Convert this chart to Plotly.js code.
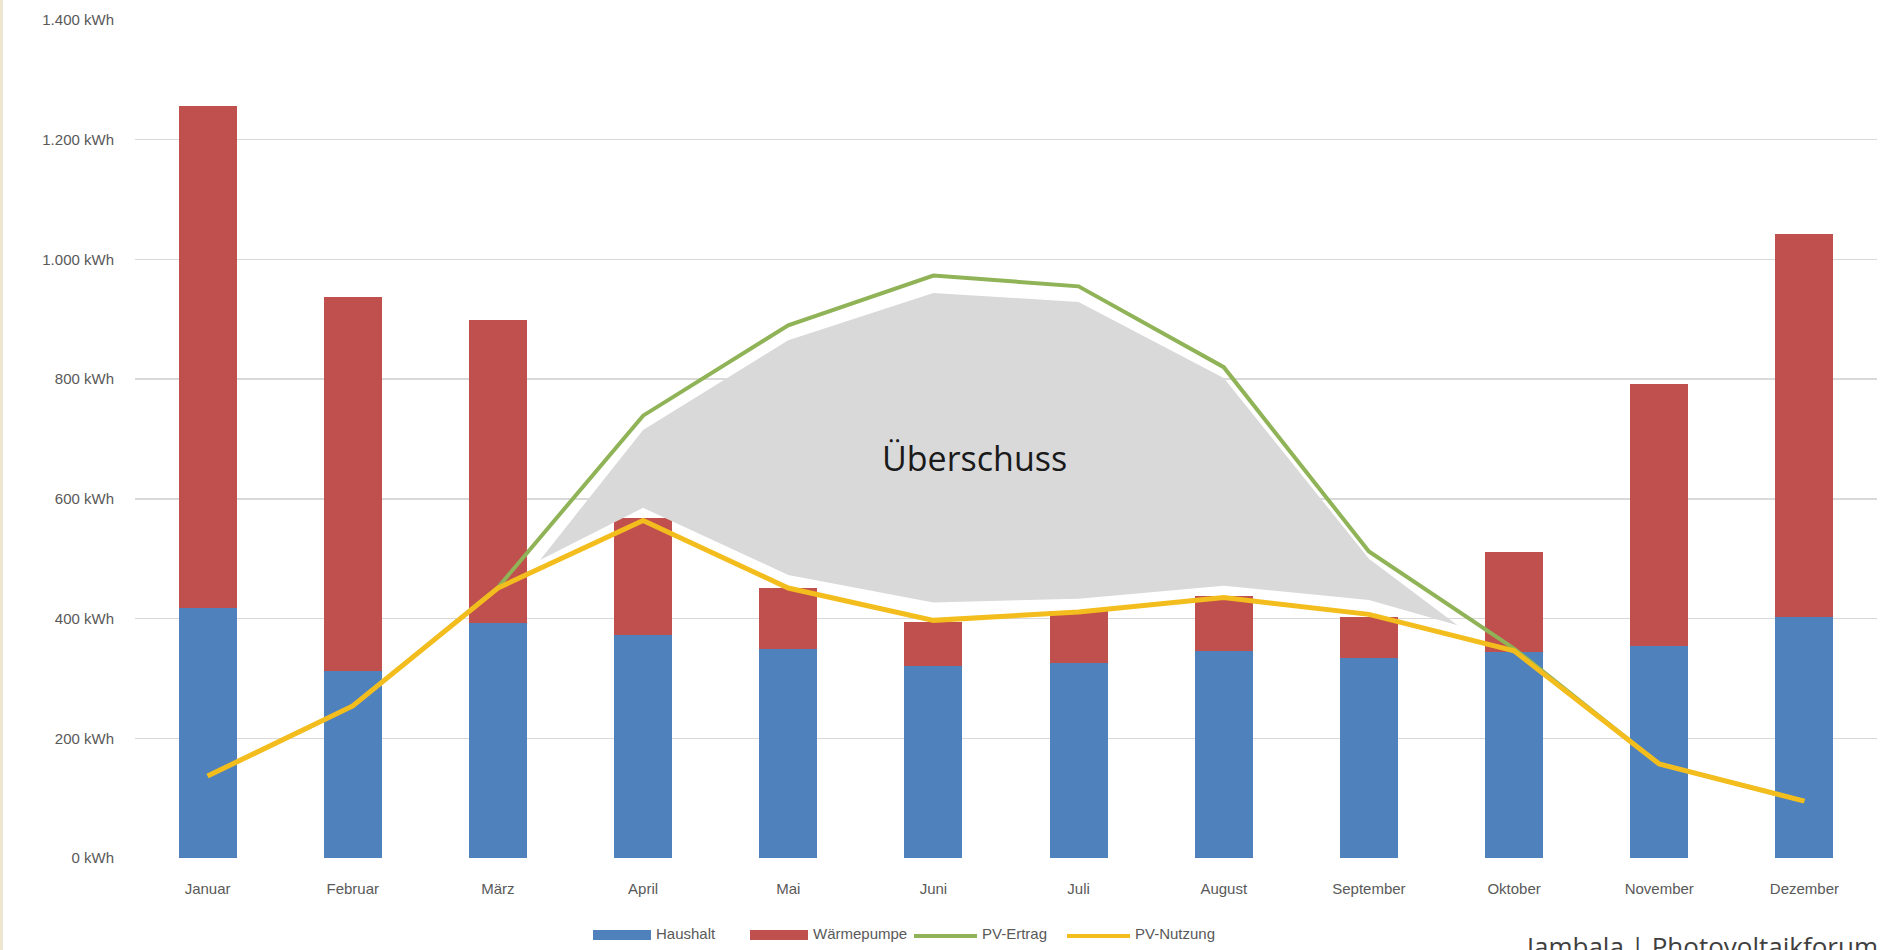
<!DOCTYPE html>
<html>
<head>
<meta charset="utf-8">
<script src="https://cdn.plot.ly/plotly-3.0.1.min.js"></script>
<style>
  html, body { margin: 0; padding: 0; background: #ffffff; }
  #chart { width: 1891px; height: 950px; }
  #edge { position: absolute; left: 0; top: 0; width: 3px; height: 950px; background: #efe6d2; }
</style>
</head>
<body>
<div id="chart"></div>
<div id="edge"></div>
<script>
// ---- Data ----
const months = ["Januar", "Februar", "März", "April", "Mai", "Juni", "Juli", "August", "September", "Oktober", "November", "Dezember"];
const haushalt    = [417, 312, 393, 373, 350, 320, 326, 346, 334, 344, 354, 403];
const waermepumpe = [840, 625, 505, 195, 101, 75, 87, 91, 69, 168, 438, 640];
const pvErtrag    = [137, 254, 452, 739, 890, 973, 955, 820, 512, 350, 157, 95];
const pvNutzung   = [137, 254, 451, 564, 451, 397, 411, 435, 407, 346, 157, 95];

// Überschuss area outline (month index positions, kWh) – upper edge then lower edge
const ueberschussX    = [2.29, 3, 4, 5, 6, 7, 8, 8.61, 8, 7, 6, 5, 4, 3, 2.29];
const ueberschussKwh  = [498, 715, 865, 944, 929, 802, 500, 389, 431, 455, 433, 427, 473, 585, 498];

const yTickVals   = [0, 200, 400, 600, 800, 1000, 1200, 1400];
const yTickLabels = ["0 kWh", "200 kWh", "400 kWh", "600 kWh", "800 kWh", "1.000 kWh", "1.200 kWh", "1.400 kWh"];

const monthIdx = months.map((m, i) => i);

// ---- Styling ----
const W = 1891, H = 950;
const ML = 135, MR = 14, MT = 20, MB = 92;
const plotW = W - ML - MR, plotH = H - MT - MB;
const px = v => (v - ML) / plotW;      // pixel -> paper x
const py = v => (H - MB - v) / plotH;  // pixel -> paper y

const cBlue = "#4f81bd", cRed = "#c0504d", cGreen = "#8fb356", cYellow = "#f2bd1d";
const tickFont = { family: "Liberation Sans Narrow, Liberation Sans, Arial, sans-serif", size: 15, color: "#595959" };

const traces = [
  {
    type: "bar", name: "Haushalt", x: monthIdx, y: haushalt, width: 0.4,
    marker: { color: cBlue }, hoverinfo: "y"
  },
  {
    type: "bar", name: "Wärmepumpe", x: monthIdx, y: waermepumpe, width: 0.4,
    marker: { color: cRed }, hoverinfo: "y"
  },
  {
    type: "scatter", mode: "lines", name: "Überschuss", x: ueberschussX, y: ueberschussKwh,
    fill: "toself", fillcolor: "#d9d9d9", line: { width: 0, color: "rgba(0,0,0,0)" },
    hoverinfo: "skip", showlegend: false
  },
  {
    type: "scatter", mode: "lines", name: "PV-Ertrag", x: monthIdx, y: pvErtrag,
    line: { color: cGreen, width: 4 }
  },
  {
    type: "scatter", mode: "lines", name: "PV-Nutzung", x: monthIdx, y: pvNutzung,
    line: { color: cYellow, width: 5 }
  }
];

// custom legend (swatches + labels) placed under the x axis
const legY = 935;
const legendItems = [
  { label: "Haushalt",    x0: 593,  x1: 651,  kind: "box",  color: cBlue },
  { label: "Wärmepumpe",  x0: 750,  x1: 808,  kind: "box",  color: cRed },
  { label: "PV-Ertrag",   x0: 914,  x1: 977,  kind: "line", color: cGreen },
  { label: "PV-Nutzung",  x0: 1067, x1: 1130, kind: "line", color: cYellow }
];
const shapes = [];
const annotations = [];
legendItems.forEach(it => {
  if (it.kind === "box") {
    shapes.push({ type: "rect", xref: "paper", yref: "paper", x0: px(it.x0), x1: px(it.x1),
      y0: py(legY + 5), y1: py(legY - 5), fillcolor: it.color, line: { width: 0 } });
  } else {
    shapes.push({ type: "line", xref: "paper", yref: "paper", x0: px(it.x0), x1: px(it.x1),
      y0: py(legY + 1), y1: py(legY + 1), line: { color: it.color, width: 4 } });
  }
  annotations.push({ xref: "paper", yref: "paper", x: px(it.x1 + 3), y: py(legY - 1),
    xanchor: "left", yanchor: "middle", showarrow: false, text: it.label, font: tickFont });
});

annotations.push({
  x: 5.28, y: 668, xref: "x", yref: "y", showarrow: false, text: "Überschuss",
  font: { family: "Open Sans, Noto Sans, sans-serif", size: 34, color: "#1a1a1a" }
});
annotations.push({
  xref: "paper", yref: "paper", x: px(1522), y: py(926), xanchor: "left", yanchor: "top",
  showarrow: false, text: "Jambala | Photovoltaikforum",
  font: { family: "Open Sans, Noto Sans, sans-serif", size: 26, color: "#404040" }
});

const layout = {
  width: W, height: H,
  margin: { l: ML, r: MR, t: MT, b: MB },
  paper_bgcolor: "#ffffff", plot_bgcolor: "#ffffff",
  barmode: "stack",
  showlegend: false,
  xaxis: {
    range: [-0.5, 11.5], tickmode: "array", tickvals: monthIdx, ticktext: months,
    showgrid: false, zeroline: false, showline: false, ticks: "",
    tickfont: tickFont, ticklabelstandoff: 20, fixedrange: true
  },
  yaxis: {
    range: [0, 1400], tickmode: "array", tickvals: yTickVals, ticktext: yTickLabels,
    showgrid: true, gridcolor: "#d9d9d9", gridwidth: 1.3, zeroline: false, showline: false,
    ticks: "", tickfont: tickFont, ticklabelstandoff: 20, fixedrange: true
  },
  shapes: shapes,
  annotations: annotations
};

Plotly.newPlot("chart", traces, layout, { displayModeBar: false, staticPlot: true });
</script>
</body>
</html>
